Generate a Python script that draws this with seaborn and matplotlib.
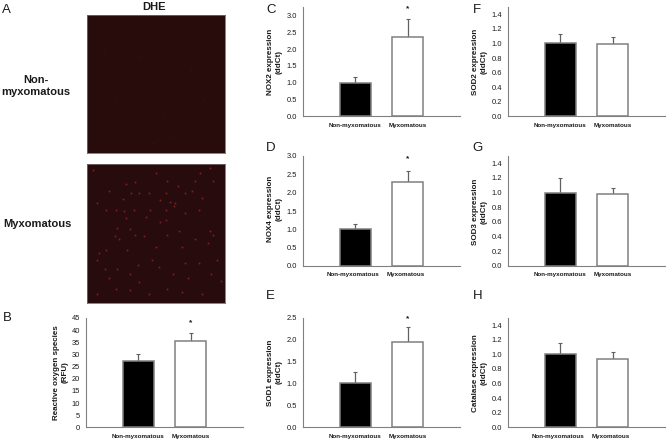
import matplotlib
matplotlib.use('Agg')
import matplotlib.pyplot as plt
import matplotlib.transforms as mtrans
import pandas as pd
import seaborn as sns

groups = ['Non-myxomatous', 'Myxomatous']

ros_mean = [27.5, 35.7]
ros_err = [2.8, 3.3]
nox2_mean = [1.0, 2.35]
nox2_err = [0.18, 0.55]
nox4_mean = [1.0, 2.28]
nox4_err = [0.14, 0.32]
sod1_mean = [1.0, 1.94]
sod1_err = [0.27, 0.34]
sod2_mean = [1.0, 0.99]
sod2_err = [0.13, 0.10]
sod3_mean = [1.0, 0.98]
sod3_err = [0.20, 0.08]
cat_mean = [1.0, 0.93]
cat_err = [0.15, 0.10]

ros_ticks = [0, 5, 10, 15, 20, 25, 30, 35, 40, 45]
nox_ticks = [0.0, 0.5, 1.0, 1.5, 2.0, 2.5, 3.0]
sod1_ticks = [0.0, 0.5, 1.0, 1.5, 2.0, 2.5]
sod_ticks = [0.0, 0.2, 0.4, 0.6, 0.8, 1.0, 1.2, 1.4]

# bright spots in the myxomatous DHE image, percent of the image
myx_spot_x = [35, 32, 45, 57, 66, 60, 64, 63, 71, 76, 82, 89, 50, 28, 16, 4, 21, 27, 34, 38,
              46, 57, 57, 53, 71, 83, 81, 91, 22, 31, 20, 23, 35, 41, 50, 67, 89, 91, 88, 78,
              69, 58, 29, 14, 9, 7, 31, 37, 22, 16, 47, 52, 62, 73, 81, 94, 90, 38, 21, 58,
              69, 83, 7, 31, 45, 13, 97, 71, 26, 14, 58, 78, 53, 43, 28, 7]
myx_spot_y = [13, 21, 21, 21, 16, 27, 28, 30, 21, 19, 6, 3, 6, 14, 19, 4, 33, 34, 33, 21,
              33, 33, 40, 42, 35, 24, 33, 12, 46, 47, 52, 54, 51, 52, 60, 48, 48, 51, 57, 54,
              60, 51, 62, 62, 64, 69, 79, 73, 76, 82, 69, 74, 79, 82, 71, 69, 79, 85, 90, 90,
              92, 94, 94, 91, 94, 76, 84, 71, 25, 33, 12, 12, 26, 38, 39, 28]
non_spot_x = [48, 62, 20, 75, 38, 55, 84, 12]
non_spot_y = [93, 88, 60, 40, 30, 72, 62, 25]

# values, errors, ticks, y max, star value, ylabel, left, top, bottom, label shift (px)
panels = [
    (ros_mean, ros_err, ros_ticks, 45, 43, 'Reactive oxygen species\n(RFU)', 86, 318, 427.3, 0),
    (nox2_mean, nox2_err, nox_ticks, 3.25, 3.19, 'NOX2 expression\n(ddCt)', 303, 7, 116.3, 0),
    (nox4_mean, nox4_err, nox_ticks, 3.0, 2.93, 'NOX4 expression\n(ddCt)', 303, 156, 266, -2),
    (sod1_mean, sod1_err, sod1_ticks, 2.5, 2.47, 'SOD1 expression\n(ddCt)', 303, 317.7, 427.3, 0),
    (sod2_mean, sod2_err, sod_ticks, 1.5, None, 'SOD2 expression\n(ddCt)', 508, 7, 116.3, 0),
    (sod3_mean, sod3_err, sod_ticks, 1.5, None, 'SOD3 expression\n(ddCt)', 508, 156, 266, 0),
    (cat_mean, cat_err, sod_ticks, 1.5, None, 'Catalase expression\n(ddCt)', 508, 317.7, 427.3, -2),
]
ylabel_pos = [(61, 372.5), (275, 62), (275, 209), (275, 372.5), (480, 62), (480, 212), (480, 373)]
letters = [('A', 2, 10), ('B', 3, 318), ('C', 266, 10), ('D', 266, 148), ('E', 266, 296),
           ('F', 473, 10), ('G', 472, 148), ('H', 473, 296)]

W, H = 667, 441
GREY = '#808080'
TEXT = '#1a1a1a'


def add_axes_px(fig, left, top, right, bottom):
    return fig.add_axes([left / W, 1 - bottom / H, (right - left) / W, (bottom - top) / H])


def fig_text(fig, x, y, s, **kwargs):
    fig.text(x / W, 1 - y / H, s, color=TEXT, **kwargs)


def plot_bars(fig, panel, label_pos):
    mean, err, ticks, ymax, star, ylabel, left, top, bottom, shift = panel
    ax = add_axes_px(fig, left, top, left + 157, bottom)
    df = pd.DataFrame({'group': groups, 'value': mean})
    ax.errorbar([0, 1], mean, yerr=[[0, 0], err], fmt='none', ecolor='#606060',
                elinewidth=0.9, capsize=1.5, capthick=0.8, zorder=1)
    sns.barplot(data=df, x='group', y='value', hue='group', order=groups, hue_order=groups,
                palette=['black', 'white'], width=0.6, edgecolor=GREY, linewidth=1.1,
                errorbar=None, dodge=False, legend=False, ax=ax, zorder=2)
    ax.set_xlim(-1, 2)
    ax.set_ylim(0, ymax)
    ax.set_yticks(ticks)
    if max(ticks) > 10:
        ax.set_yticklabels([str(t) for t in ticks])
    else:
        ax.set_yticklabels([f'{t:.1f}' for t in ticks])
    ax.set_xlabel('')
    ax.set_ylabel('')
    sns.despine(ax=ax)
    for side in ['left', 'bottom']:
        ax.spines[side].set_color(GREY)
        ax.spines[side].set_linewidth(0.8)
    ax.tick_params(axis='y', labelsize=5.4, length=1.5, width=0.6, color=GREY, pad=3, labelcolor=TEXT)
    ax.tick_params(axis='x', labelsize=4.5, length=1.5, width=0.6, color=GREY, pad=3, labelcolor=TEXT)
    offset = mtrans.ScaledTranslation(shift / 100, 0, fig.dpi_scale_trans)
    for label in ax.get_xticklabels():
        label.set_fontweight('bold')
        label.set_transform(label.get_transform() + offset)
    if star is not None:
        ax.text(1, star, '*', ha='center', va='center', fontsize=6, fontweight='bold',
                color=TEXT, clip_on=False)
    fig_text(fig, label_pos[0], label_pos[1], ylabel, rotation=90, ha='center', va='center',
             fontsize=5.8, fontweight='bold', linespacing=1.3)


def plot_image(fig, top, bottom, spot_x, spot_y, color, face):
    ax = add_axes_px(fig, 87, top, 225, bottom)
    ax.set_facecolor(face)
    sns.scatterplot(x=spot_x, y=spot_y, s=2, color=color, linewidth=0, alpha=0.85, ax=ax)
    ax.set_xlim(0, 100)
    ax.set_ylim(100, 0)
    ax.set_xticks([])
    ax.set_yticks([])
    for spine in ax.spines.values():
        spine.set_color('#7a6a6a')
        spine.set_linewidth(0.6)


def main():
    sns.set_style('white')
    plt.rcParams['font.family'] = ['Liberation Sans', 'DejaVu Sans']

    fig = plt.figure(figsize=(W / 100, H / 100), dpi=100)
    plot_image(fig, 15.3, 152.7, non_spot_x, non_spot_y, '#3a0e0e', '#280c0c')
    plot_image(fig, 164.3, 302.7, myx_spot_x, myx_spot_y, '#8a2020', '#280b0d')

    for panel, label_pos in zip(panels, ylabel_pos):
        plot_bars(fig, panel, label_pos)

    fig_text(fig, 154, 7.5, 'DHE', ha='center', va='center', fontsize=8, fontweight='bold')
    fig_text(fig, 36, 86, 'Non-\nmyxomatous', ha='center', va='center', fontsize=8,
             fontweight='bold', linespacing=1.25)
    fig_text(fig, 37, 224, 'Myxomatous', ha='center', va='center', fontsize=8, fontweight='bold')
    for letter, x, y in letters:
        fig_text(fig, x, y, letter, ha='left', va='center', fontsize=9.5)

    fig.savefig('out.png', dpi=100)


if __name__ == '__main__':
    main()
